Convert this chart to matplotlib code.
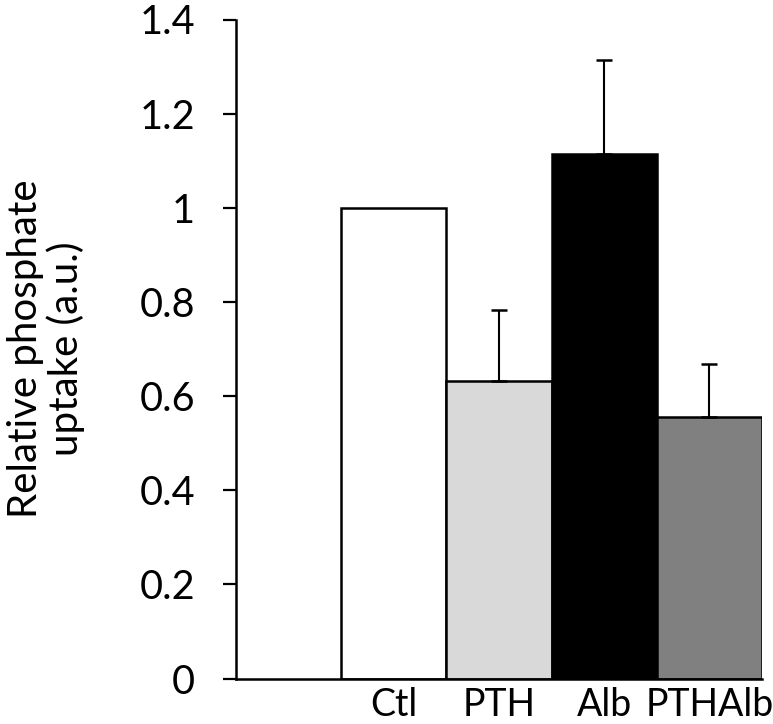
import numpy as np
import matplotlib
matplotlib.use("Agg")
import matplotlib.pyplot as plt

plt.rcParams['font.family'] = ['Lato', 'DejaVu Sans']

categories = ["", "Ctl", "PTH", "Alb", "PTHAlb"]
values = [np.nan, 1.0, 0.633, 1.114, 0.556]
errors = [np.nan, np.nan, 0.150, 0.199, 0.112]
colors = ["white", "white", "#d9d9d9", "black", "#808080"]
yticks = [0, 0.2, 0.4, 0.6, 0.8, 1.0, 1.2, 1.4]
ylabel = "Relative phosphate\nuptake (a.u.)"

fig = plt.figure(figsize=(7.73, 7.24), dpi=100)
ax = fig.add_axes([236/773, 1-678.5/724, (762-236)/773, (678.5-19.5)/724])

x = np.arange(len(categories))
ax.bar(x, values, width=1.0, color=colors, edgecolor="black", linewidth=1.8, zorder=2)

for xi, v, e in zip(x, values, errors):
    if not np.isnan(e):
        ax.errorbar([xi], [v], yerr=[[0], [e]], fmt="none", ecolor="black",
                    elinewidth=1.5, capsize=5.5, capthick=1.8, zorder=3)

ax.set_xlim(-0.5, len(categories) - 0.5)
ax.set_ylim(0, 1.4)
ax.set_yticks(yticks)
ax.set_yticklabels([f"{t:g}" for t in yticks])
ax.set_xticks(x)
ax.set_xticklabels(categories)

ax.tick_params(axis="y", direction="out", length=9.5, width=1.6, pad=20, labelsize=28.5)
ax.tick_params(axis="x", length=0, pad=6, labelsize=27)

for s in ["top", "right"]:
    ax.spines[s].set_visible(False)
for s in ["left", "bottom"]:
    ax.spines[s].set_linewidth(1.8)

fig.text(46/773, 1-349/724, ylabel, rotation=90, ha="center", va="center",
         multialignment="center", fontsize=29, linespacing=1.1)

fig.savefig("out.png", dpi=100)
